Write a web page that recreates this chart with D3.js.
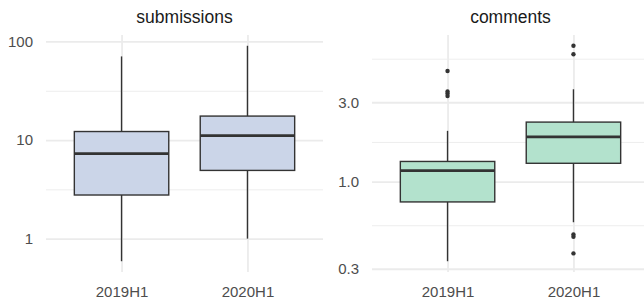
<!DOCTYPE html>
<html>
<head>
<meta charset="utf-8">
<script src="https://cdn.jsdelivr.net/npm/d3@7"></script>
<style>
  body { margin: 0; background: #fff; }
  svg { display: block; font-family: "Liberation Sans", Arial, sans-serif; }
  .tick text { fill: #4d4d4d; font-size: 15px; }
  .grid .tick line { stroke: #ebebeb; }
  .grid .domain { display: none; }
  .title { fill: #1a1a1a; font-size: 17.5px; text-anchor: middle; }
</style>
</head>
<body>
<svg width="644" height="301"></svg>
<script>

// ----- data -----------------------------------------------------------
var periods = ["2019H1", "2020H1"];
var facetNames = ["submissions", "comments"];
var facetFills = ["#cbd5e8", "#b3e2cd"];

// submissions
var subLow  = [0.59, 1.0];
var subQ1   = [2.77, 4.92];
var subMed  = [7.27, 11.07];
var subQ3   = [12.2, 17.5];
var subHigh = [70.5, 90.4];
var subOut  = [[], []];
var subBreaks = [0.1, 1, 10, 100, 1000];

// comments
var comLow  = [0.333, 0.571];
var comQ1   = [0.756, 1.29];
var comMed  = [1.164, 1.86];
var comQ3   = [1.323, 2.28];
var comHigh = [2.02, 3.59];
var comOut  = [[4.62, 3.48, 3.39, 3.27], [6.55, 5.82, 0.482, 0.467, 0.371]];
var comBreaks = [0.1, 0.3, 1, 3, 10];

var subFormat = function(d) { return String(d); };
var comFormat = function(d) { return d.toFixed(1); };

// ----- layout ----------------------------------------------------------
var svg = d3.select("svg");
var panelTop = 35, panelBottom = 272, panelWidth = 277;
var panelLefts = [46, 372];

var facets = [
  { low: subLow, q1: subQ1, med: subMed, q3: subQ3, high: subHigh, out: subOut, breaks: subBreaks, fmt: subFormat },
  { low: comLow, q1: comQ1, med: comMed, q3: comQ3, high: comHigh, out: comOut, breaks: comBreaks, fmt: comFormat }
];

facets.forEach(function(f, fi) {
  var left = panelLefts[fi];
  var ph = panelBottom - panelTop;

  var boxes = periods.map(function(p, i) {
    return { period: p, low: f.low[i], q1: f.q1[i], med: f.med[i], q3: f.q3[i], high: f.high[i], out: f.out[i] };
  });

  // y domain: data range with 5% expansion in log space (ggplot default)
  var all = [];
  boxes.forEach(function(b) { all.push(b.low, b.high); all = all.concat(b.out); });
  var lo = Math.log10(d3.min(all)), hi = Math.log10(d3.max(all));
  var pad = (hi - lo) * 0.05;
  var y = d3.scaleLog()
      .domain([Math.pow(10, lo - pad), Math.pow(10, hi + pad)])
      .range([ph, 0]);

  var x = d3.scalePoint()
      .domain(periods)
      .range([0, panelWidth])
      .padding(0.6);
  var boxW = x.step() * 0.75;

  var inDomain = function(v) { return v >= y.domain()[0] && v <= y.domain()[1]; };
  var majors = f.breaks.filter(inDomain);
  var minors = d3.pairs(f.breaks).map(function(p) {
    return Math.sqrt(p[0] * p[1]);
  }).filter(inDomain);

  var g = svg.append("g").attr("transform", "translate(" + left + "," + panelTop + ")");

  // grid lines
  g.append("g").attr("class", "grid")
      .call(d3.axisLeft(y).tickValues(minors).tickSize(-panelWidth).tickFormat(""))
    .selectAll("line").attr("stroke-width", 0.9);
  g.append("g").attr("class", "grid")
      .call(d3.axisLeft(y).tickValues(majors).tickSize(-panelWidth).tickFormat(""))
    .selectAll("line").attr("stroke-width", 1.8);
  g.append("g").attr("class", "grid")
      .attr("transform", "translate(0," + ph + ")")
      .call(d3.axisBottom(x).tickSize(-ph).tickFormat(""))
    .selectAll("line").attr("stroke-width", 1.8);

  // axes labels
  var ya = g.append("g")
      .call(d3.axisLeft(y).tickValues(majors).tickSize(0).tickPadding(13).tickFormat(f.fmt));
  ya.select(".domain").remove();
  ya.selectAll("text").attr("font-family", null).attr("font-size", null);

  var xa = g.append("g")
      .attr("transform", "translate(0," + ph + ")")
      .call(d3.axisBottom(x).tickSize(0).tickPadding(14));
  xa.select(".domain").remove();
  xa.selectAll("text").attr("font-family", null).attr("font-size", null);

  // boxes
  var box = g.selectAll(".box")
      .data(boxes)
    .enter().append("g")
      .attr("class", "box")
      .attr("transform", function(d) { return "translate(" + x(d.period) + ",0)"; });

  box.append("line")
      .attr("y1", function(d) { return y(d.q3); })
      .attr("y2", function(d) { return y(d.high); })
      .attr("stroke", "#333").attr("stroke-width", 1.4);
  box.append("line")
      .attr("y1", function(d) { return y(d.q1); })
      .attr("y2", function(d) { return y(d.low); })
      .attr("stroke", "#333").attr("stroke-width", 1.4);

  box.append("rect")
      .attr("x", -boxW / 2)
      .attr("width", boxW)
      .attr("y", function(d) { return y(d.q3); })
      .attr("height", function(d) { return y(d.q1) - y(d.q3); })
      .attr("fill", facetFills[fi])
      .attr("stroke", "#333").attr("stroke-width", 1.4);

  box.append("line")
      .attr("x1", -boxW / 2).attr("x2", boxW / 2)
      .attr("y1", function(d) { return y(d.med); })
      .attr("y2", function(d) { return y(d.med); })
      .attr("stroke", "#333").attr("stroke-width", 2.8);

  box.selectAll("circle")
      .data(function(d) { return d.out; })
    .enter().append("circle")
      .attr("r", 2.2)
      .attr("cy", function(v) { return y(v); })
      .attr("fill", "#333");

  // facet title
  svg.append("text")
      .attr("class", "title")
      .attr("x", left + panelWidth / 2)
      .attr("y", 23)
      .text(facetNames[fi]);
});

</script>
</body>
</html>
